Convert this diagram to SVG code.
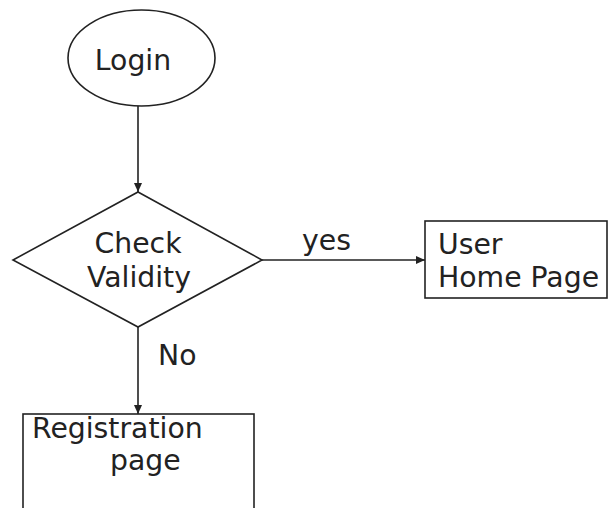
<svg xmlns="http://www.w3.org/2000/svg" width="609" height="508" viewBox="0 0 609 508">
<style>
.shape{fill:#fff;stroke:#222;stroke-width:1.6}
.edge{fill:none;stroke:#222;stroke-width:1.6}
text{font-family:"DejaVu Sans",Verdana,sans-serif;font-size:28.3px;fill:#222}
</style>
<defs>
<marker id="arr" markerWidth="10" markerHeight="8" refX="9" refY="4" orient="auto" markerUnits="userSpaceOnUse">
<path d="M0,0 L9,4 L0,8 Z" fill="#222"/>
</marker>
</defs>
<rect width="609" height="508" fill="#fff"/>
<g id="connectors">
<line class="edge" x1="138" y1="106" x2="138" y2="192" marker-end="url(#arr)"/>
<line class="edge" x1="262" y1="260" x2="425" y2="260" marker-end="url(#arr)"/>
<line class="edge" x1="138" y1="327" x2="138" y2="414" marker-end="url(#arr)"/>
<text x="302" y="250">yes</text>
<text x="158" y="365">No</text>
</g>
<g id="login">
<ellipse class="shape" cx="141.5" cy="58" rx="73.5" ry="48"/>
<text x="133" y="70" text-anchor="middle">Login</text>
</g>
<g id="check">
<polygon class="shape" points="138,192 262,260 138,327 13,260"/>
<text x="138" y="253" text-anchor="middle">Check</text>
<text x="139" y="287" text-anchor="middle">Validity</text>
</g>
<g id="userhome">
<rect class="shape" x="425" y="221" width="182" height="77"/>
<text x="438" y="254">User</text>
<text x="438" y="287">Home Page</text>
</g>
<g id="registration">
<rect class="shape" x="23" y="414" width="231" height="110"/>
<text x="32" y="438">Registration</text>
<text x="110" y="470">page</text>
</g>
</svg>
